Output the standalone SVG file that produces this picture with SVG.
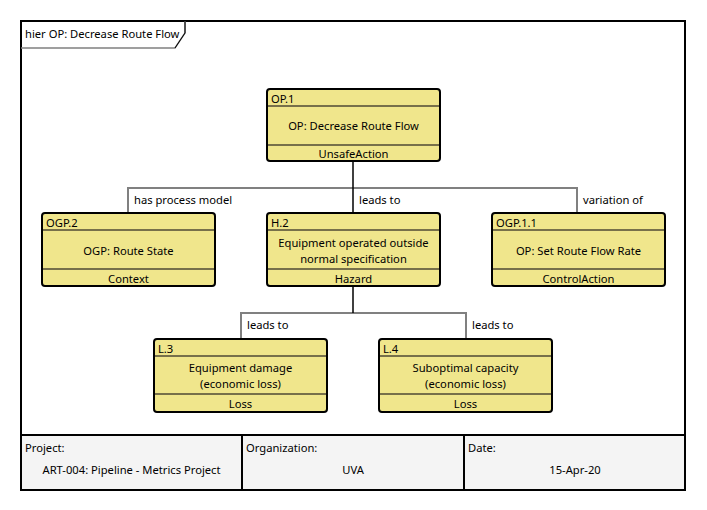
<svg xmlns="http://www.w3.org/2000/svg" width="707" height="510" viewBox="0 0 707 510">
<style>
text{font-family:"Noto Sans","Open Sans","DejaVu Sans",sans-serif;font-size:11.2px;fill:#000}
.c{text-anchor:middle}
.box{fill:#f0e68c;stroke:#000;stroke-width:2}
.sep{stroke:#77704a;stroke-width:2}
.cn{fill:none;stroke:#808080;stroke-width:2}
.cb{fill:none;stroke:#000;stroke-width:1.5}
</style>
<rect x="0" y="0" width="707" height="510" fill="#fff"/>
<g id="frame">
<rect x="21" y="21" width="664" height="469" fill="#fff" stroke="#000" stroke-width="2"/>
<path d="M21,48 H175 L185,33 V21" fill="none" stroke="#808080" stroke-width="1.5"/>
<path d="M185,21 V33 L175,48" fill="none" stroke="#000" stroke-width="1"/>
<text x="25" y="38">hier OP: Decrease Route Flow</text>
</g>
<g id="connectors">
<path class="cn" d="M128,213 V188 H577 V213"/>
<path class="cb" d="M353,162 V213"/>
<text x="134" y="204">has process model</text>
<text x="359" y="204">leads to</text>
<text x="583" y="204">variation of</text>
<path class="cn" d="M241,339 V313 H466 V339"/>
<path class="cb" d="M353,287 V313"/>
<text x="247" y="329">leads to</text>
<text x="472" y="329">leads to</text>
</g>
<g id="OP.1">
<rect class="box" x="267" y="89" width="173" height="72" rx="3"/>
<line class="sep" x1="268" y1="106" x2="439" y2="106"/>
<line class="sep" x1="268" y1="145" x2="439" y2="145"/>
<text x="271" y="103">OP.1</text>
<text class="c" x="353.5" y="130">OP: Decrease Route Flow</text>
<text class="c" x="353.5" y="158">UnsafeAction</text>
</g>
<g id="OGP.2">
<rect class="box" x="42" y="213" width="173" height="73" rx="3"/>
<line class="sep" x1="43" y1="230" x2="214" y2="230"/>
<line class="sep" x1="43" y1="269" x2="214" y2="269"/>
<text x="46" y="227">OGP.2</text>
<text class="c" x="128.5" y="255">OGP: Route State</text>
<text class="c" x="128.5" y="283">Context</text>
</g>
<g id="H.2">
<rect class="box" x="267" y="213" width="173" height="73" rx="3"/>
<line class="sep" x1="268" y1="230" x2="439" y2="230"/>
<line class="sep" x1="268" y1="269" x2="439" y2="269"/>
<text x="271" y="227">H.2</text>
<text class="c" x="353.5" y="247">Equipment operated outside</text>
<text class="c" x="353.5" y="263">normal specification</text>
<text class="c" x="353.5" y="283">Hazard</text>
</g>
<g id="OGP.1.1">
<rect class="box" x="492" y="213" width="173" height="73" rx="3"/>
<line class="sep" x1="493" y1="230" x2="664" y2="230"/>
<line class="sep" x1="493" y1="269" x2="664" y2="269"/>
<text x="496" y="227">OGP.1.1</text>
<text class="c" x="578.5" y="255">OP: Set Route Flow Rate</text>
<text class="c" x="578.5" y="283">ControlAction</text>
</g>
<g id="L.3">
<rect class="box" x="154" y="339" width="173" height="73" rx="3"/>
<line class="sep" x1="155" y1="356" x2="326" y2="356"/>
<line class="sep" x1="155" y1="394" x2="326" y2="394"/>
<text x="158" y="353">L.3</text>
<text class="c" x="240.5" y="372">Equipment damage</text>
<text class="c" x="240.5" y="388">(economic loss)</text>
<text class="c" x="240.5" y="408">Loss</text>
</g>
<g id="L.4">
<rect class="box" x="379" y="339" width="173" height="73" rx="3"/>
<line class="sep" x1="380" y1="356" x2="551" y2="356"/>
<line class="sep" x1="380" y1="394" x2="551" y2="394"/>
<text x="383" y="353">L.4</text>
<text class="c" x="465.5" y="372">Suboptimal capacity</text>
<text class="c" x="465.5" y="388">(economic loss)</text>
<text class="c" x="465.5" y="408">Loss</text>
</g>
<g id="footer">
<rect x="21" y="435" width="664" height="55" fill="#f4f4f4" stroke="#000" stroke-width="2"/>
<line x1="242" y1="435" x2="242" y2="490" stroke="#000" stroke-width="2"/>
<line x1="464" y1="435" x2="464" y2="490" stroke="#000" stroke-width="2"/>
<text x="25" y="452">Project:</text>
<text x="246" y="452">Organization:</text>
<text x="468" y="452">Date:</text>
<text class="c" x="131.5" y="474">ART-004: Pipeline - Metrics Project</text>
<text class="c" x="353" y="474">UVA</text>
<text class="c" x="575" y="474">15-Apr-20</text>
</g>
</svg>
